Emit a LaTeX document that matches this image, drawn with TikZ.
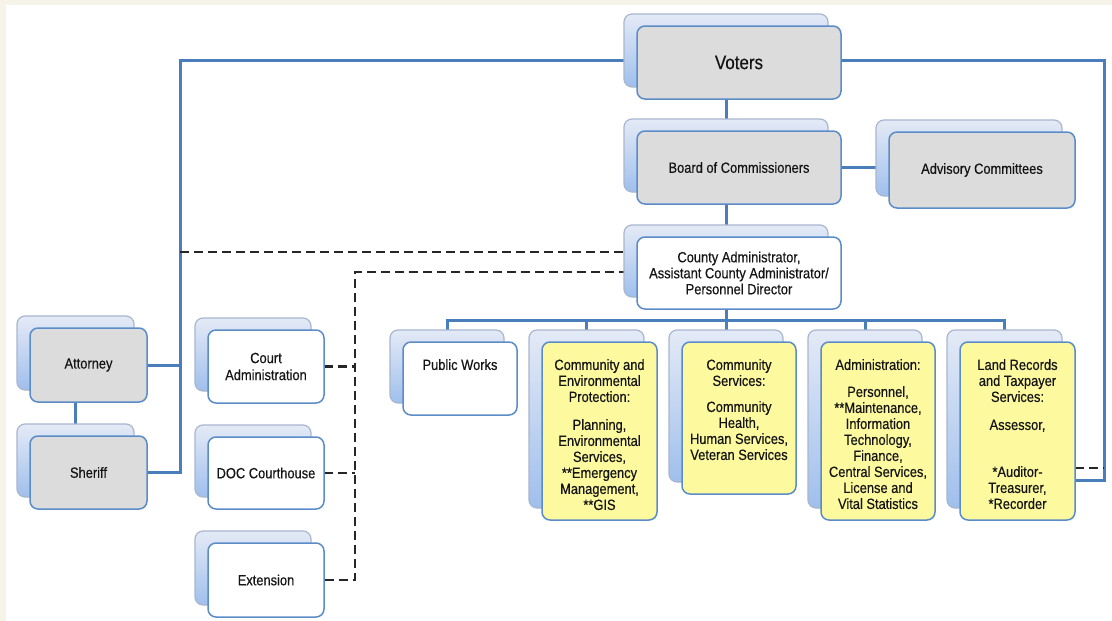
\documentclass[tikz,border=0pt]{standalone}
\usepackage{fontspec}
\setmainfont{Liberation Sans}[FakeStretch=0.87,FakeBold=0.4]
\definecolor{lineblue}{HTML}{4A7EBB}
\definecolor{boxedge}{HTML}{5B8CC8}
\definecolor{greyfill}{HTML}{DCDCDC}
\definecolor{yellowfill}{HTML}{FDF99E}
\definecolor{backtop}{HTML}{E4EAF6}
\definecolor{backbot}{HTML}{9FBFEC}
\definecolor{backedge}{HTML}{A8B6CE}
\definecolor{cream}{HTML}{F6F4E8}
\definecolor{txt}{HTML}{141414}
\tikzset{
  frontbox/.style={draw=boxedge, line width=1.5pt, rounded corners=8pt, inner sep=0pt, outer sep=0pt},
  backbox/.style={draw=backedge, line width=1.2pt, rounded corners=8pt, top color=backtop, bottom color=backbot, inner sep=0pt, outer sep=0pt},
  conn/.style={draw=lineblue, line width=3pt},
  dashconn/.style={draw=black!85, line width=2.2pt, dash pattern=on 9pt off 5pt},
  lbl/.style={text=txt, align=center, inner sep=0pt, font=\fontsize{14.8}{16}\selectfont},
}
\newcommand\boxpair[6]{%
  \node[backbox, minimum width={(#4-#2)*1pt}, minimum height={(#5-#3)*1pt}] (#1-b) at ({(#2+#4)/2-13},{(#3+#5)/2-12}) {};
  \node[frontbox, fill=#6, minimum width={(#4-#2)*1pt}, minimum height={(#5-#3)*1pt}] (#1) at ({(#2+#4)/2},{(#3+#5)/2}) {};
}
\begin{document}
\begin{tikzpicture}[x=1pt, y=-1pt]
\useasboundingbox (0,0) rectangle (1112,621);
\fill[cream] (0,0) rectangle (1112,621);
\fill[white] (6,5) rectangle (1112,621);

% coordinates for connectors
\coordinate (lv) at (180,60);
\coordinate (rc) at (1104,480);
\coordinate (rd) at (1104,468);
\coordinate (bus) at (0,320);
\coordinate (d1) at (180,252);
\coordinate (d2) at (355,272);
\coordinate (toprow) at (0,359);

% invisible placement of boxes first (names needed) -- drawn later
\begin{scope}[opacity=0]
\boxpair{voters}{637}{26}{841}{99}{greyfill}
\boxpair{board}{637}{131}{841}{204}{greyfill}
\boxpair{adv}{889}{132}{1075}{208}{greyfill}
\boxpair{ca}{637}{237}{841}{309}{white}
\boxpair{attorney}{30}{328}{147}{402}{greyfill}
\boxpair{sheriff}{30}{436}{147}{509}{greyfill}
\boxpair{court}{208}{330}{324}{403}{white}
\boxpair{doc}{208}{437}{324}{509}{white}
\boxpair{ext}{208}{543}{324}{617}{white}
\boxpair{pw}{403}{342}{517}{415}{white}
\boxpair{cep}{542}{342}{657}{520}{yellowfill}
\boxpair{cs}{682}{342}{796}{494}{yellowfill}
\boxpair{adm}{821}{342}{935}{520}{yellowfill}
\boxpair{land}{960}{342}{1075}{520}{yellowfill}
\end{scope}

% solid connectors
\draw[conn] (voters.west |- lv) -- (lv) |- (sheriff.east);
\draw[conn] (attorney.east) -- (attorney.east -| lv);
\draw[conn] (attorney-b.center) -- (sheriff-b.center);
\draw[conn] (voters.east |- lv) -| (rc) -- (rc -| land.east);
\draw[conn] (voters-b.center) -- (board-b.center);
\draw[conn] (board-b.center) -- (ca-b.center);
\draw[conn] (board.center) -- (adv.center |- board.center);
\draw[conn] (ca-b.center) -- (ca-b.center |- bus);
\draw[conn] (pw-b.center) -- (pw-b.center |- bus) -- (land-b.center |- bus) -- (land-b.center);
\foreach \n in {cep,cs,adm} \draw[conn] (\n-b.center |- bus) -- (\n-b.center);

% dashed connectors
\draw[dashconn] (d1) -- (d1 -| ca-b.center);
\draw[dashconn] (ca-b.center |- d2) -- (d2) |- (ext.east);
\draw[dashconn] (court.east) -- (court.east -| d2);
\draw[dashconn] (doc.east) -- (doc.east -| d2);
\draw[dashconn] (land.east |- rd) -- (rd);

% boxes
\boxpair{voters}{637}{26}{841}{99}{greyfill}
\boxpair{board}{637}{131}{841}{204}{greyfill}
\boxpair{adv}{889}{132}{1075}{208}{greyfill}
\boxpair{ca}{637}{237}{841}{309}{white}
\boxpair{attorney}{30}{328}{147}{402}{greyfill}
\boxpair{sheriff}{30}{436}{147}{509}{greyfill}
\boxpair{court}{208}{330}{324}{403}{white}
\boxpair{doc}{208}{437}{324}{509}{white}
\boxpair{ext}{208}{543}{324}{617}{white}
\boxpair{pw}{403}{342}{517}{415}{white}
\boxpair{cep}{542}{342}{657}{520}{yellowfill}
\boxpair{cs}{682}{342}{796}{494}{yellowfill}
\boxpair{adm}{821}{342}{935}{520}{yellowfill}
\boxpair{land}{960}{342}{1075}{520}{yellowfill}

% labels
\node[lbl, font=\fontsize{19.5}{22}\selectfont] (voters-t) at (voters.center) {Voters};
\node[lbl] (board-t) at (board.center) {Board of Commissioners};
\node[lbl] (adv-t) at (adv.center) {Advisory Committees};
\node[lbl] (ca-t) at (ca.center) {County Administrator,\\Assistant County Administrator/\\Personnel Director};
\node[lbl] (attorney-t) at (attorney.center) {Attorney};
\node[lbl] (sheriff-t) at (sheriff.center) {Sheriff};
\node[lbl, font=\fontsize{14.8}{17}\selectfont] (court-t) at (court.center) {Court\\Administration};
\node[lbl] (doc-t) at (doc.center) {DOC Courthouse};
\node[lbl] (ext-t) at (ext.center) {Extension};
\node[lbl, anchor=north] (pw-t) at (pw.north |- toprow) {Public Works};
\node[lbl, anchor=north] (cep-t) at (cep.north |- toprow) {Community and\\Environmental\\Protection:\\[12pt]Planning,\\Environmental\\Services,\\**Emergency\\Management,\\**GIS};
\node[lbl, anchor=north] (cs-t) at (cs.north |- toprow) {Community\\Services:\\[10pt]Community\\Health,\\Human Services,\\Veteran Services};
\node[lbl, anchor=north] (adm-t) at (adm.north |- toprow) {Administration:\\[11pt]Personnel,\\**Maintenance,\\Information\\Technology,\\Finance,\\Central Services,\\License and\\Vital Statistics};
\node[lbl, anchor=north] (land-t) at (land.north |- toprow) {Land Records\\and Taxpayer\\Services:\\[12pt]Assessor,\\[31pt]*Auditor-\\Treasurer,\\*Recorder};
\end{tikzpicture}
\end{document}
